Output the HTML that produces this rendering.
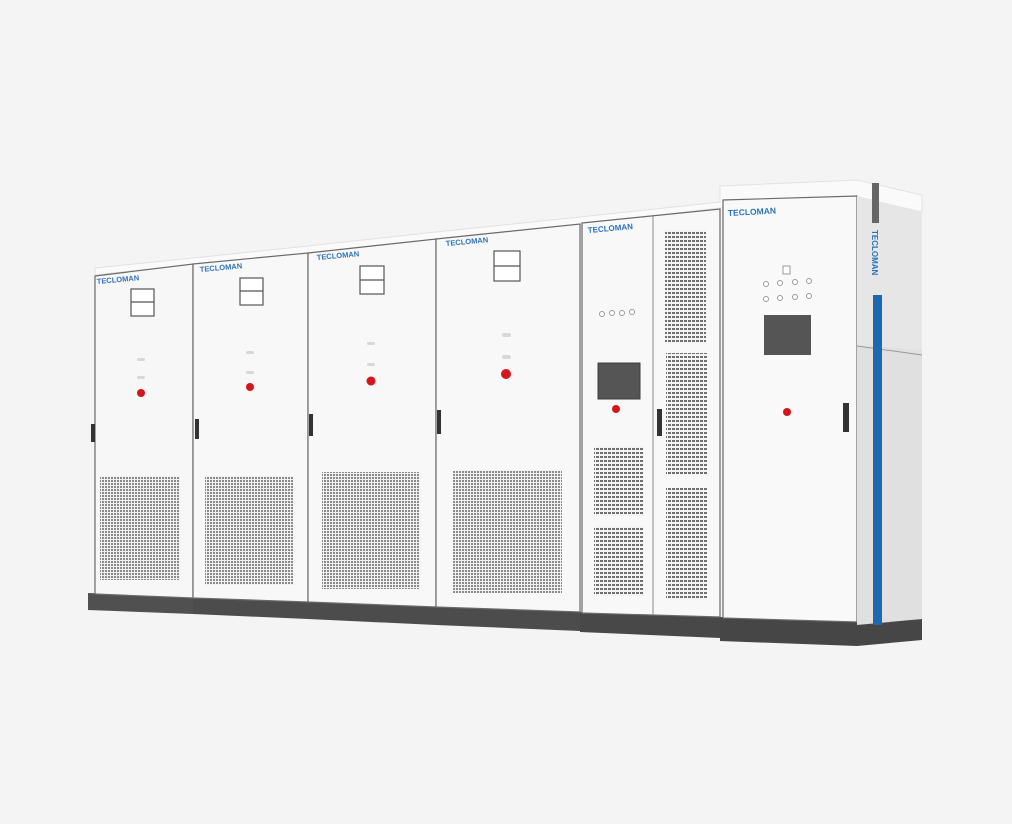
<!DOCTYPE html>
<html><head><meta charset="utf-8"><style>
html,body{margin:0;padding:0;background:#f4f4f4;}
svg{display:block}
text{font-family:"Liberation Sans",sans-serif;font-weight:bold;fill:#2b72bb;}
</style></head><body>
<svg width="1012" height="824" viewBox="0 0 1012 824" xmlns="http://www.w3.org/2000/svg">
<defs>
<pattern id="g" width="3" height="3" patternUnits="userSpaceOnUse">
<rect width="3" height="3" fill="#f2f2f2"/><rect width="2" height="2" fill="#8a8a8a"/>
</pattern>
<pattern id="g2" width="4" height="4" patternUnits="userSpaceOnUse">
<rect width="4" height="4" fill="#f4f4f4"/><rect width="3" height="2" fill="#6f6f6f"/>
</pattern>
</defs>
<rect width="1012" height="824" fill="#f4f4f4"/>
<!-- bases -->
<polygon points="88,593 193,597 193,614 88,610" fill="#505050"/>
<polygon points="193,597 308,601 308,619 193,614" fill="#4c4c4c"/>
<polygon points="308,601 436,606 436,625 308,619" fill="#4c4c4c"/>
<polygon points="436,606 580,611 580,631 436,625" fill="#4c4c4c"/>
<polygon points="580,612 720,616 720,638 580,632" fill="#484848"/>
<polygon points="720,617 857,622 922,619 922,640 857,646 720,641" fill="#464646"/>
<!-- top lids -->
<polygon points="95,268 193,258 308,246 436,232 580,217 720,202 720,186 857,180 922,195 922,212 857,197 720,208 580,224 436,239 308,253 193,264 95,275" fill="#fafafa" stroke="#e2e2e2" stroke-width="1"/>
<!-- fronts -->
<polygon points="95,276 193,264 193,598 95,594" fill="#f7f7f7" stroke="#6a6a6a" stroke-width="1.2"/>
<polygon points="193,264 308,253 308,602 193,598" fill="#f8f8f8" stroke="#6a6a6a" stroke-width="1.2"/>
<polygon points="308,253 436,239 436,607 308,602" fill="#f8f8f8" stroke="#6a6a6a" stroke-width="1.2"/>
<polygon points="436,239 580,224 580,612 436,607" fill="#f8f8f8" stroke="#6a6a6a" stroke-width="1.2"/>
<polygon points="582,223 720,209 720,617 582,613" fill="#f8f8f8" stroke="#6a6a6a" stroke-width="1.2"/>
<line x1="653" y1="216" x2="653" y2="615" stroke="#8a8a8a" stroke-width="1"/>
<polygon points="723,200 857,196 857,622 723,618" fill="#f9f9f9" stroke="#6a6a6a" stroke-width="1.2"/>
<!-- side -->
<polygon points="857,196 922,212 922,619 857,625" fill="#e0e0e0"/>
<polygon points="857,196 922,212 922,350 857,345" fill="#e6e6e6"/>
<line x1="857" y1="346" x2="922" y2="355" stroke="#9a9a9a"/>
<rect x="872" y="183" width="7" height="40" fill="#666"/>
<polygon points="873,295 882,295 882,625 873,625" fill="#1f67b1"/>
<text x="0" y="0" font-size="8" transform="translate(872,230) rotate(90)">TECLOMAN</text>
<!-- logos -->
<text x="97" y="284" font-size="7.5" transform="rotate(-5 97 284)">TECLOMAN</text>
<text x="200" y="272" font-size="7.5" transform="rotate(-5 200 272)">TECLOMAN</text>
<text x="317" y="260" font-size="7.5" transform="rotate(-5 317 260)">TECLOMAN</text>
<text x="446" y="246" font-size="7.5" transform="rotate(-5 446 246)">TECLOMAN</text>
<text x="588" y="233" font-size="8" transform="rotate(-5 588 233)">TECLOMAN</text>
<text x="728" y="216" font-size="8.5" transform="rotate(-3 728 216)">TECLOMAN</text>
<!-- windows -->
<g fill="#fff" stroke="#555" stroke-width="1.2">
<rect x="131" y="289" width="23" height="27"/><line x1="131" y1="302" x2="154" y2="302"/>
<rect x="240" y="278" width="23" height="27"/><line x1="240" y1="291" x2="263" y2="291"/>
<rect x="360" y="266" width="24" height="28"/><line x1="360" y1="280" x2="384" y2="280"/>
<rect x="494" y="251" width="26" height="30"/><line x1="494" y1="266" x2="520" y2="266"/>
</g>
<g fill="#d8d8d8">
<rect x="137" y="358" width="8" height="3" rx="1.5"/><rect x="137" y="376" width="8" height="3" rx="1.5"/>
<rect x="246" y="351" width="8" height="3" rx="1.5"/><rect x="246" y="371" width="8" height="3" rx="1.5"/>
<rect x="367" y="342" width="8" height="3" rx="1.5"/><rect x="367" y="363" width="8" height="3" rx="1.5"/>
<rect x="502" y="333" width="9" height="4" rx="2"/><rect x="502" y="355" width="9" height="4" rx="2"/>
</g>
<!-- red buttons -->
<g fill="#d4161c">
<circle cx="141" cy="393" r="4"/><circle cx="250" cy="387" r="4"/><circle cx="371" cy="381" r="4.5"/><circle cx="506" cy="374" r="5"/>
<circle cx="616" cy="409" r="4"/><circle cx="787" cy="412" r="4"/>
</g>
<!-- handles -->
<g fill="#333">
<rect x="91" y="424" width="4" height="18"/><rect x="195" y="419" width="4" height="20"/>
<rect x="309" y="414" width="4" height="22"/><rect x="437" y="410" width="4" height="24"/>
<rect x="657" y="409" width="5" height="27"/><rect x="843" y="403" width="6" height="29"/>
</g>
<!-- grilles -->
<rect x="100" y="476" width="80" height="104" fill="url(#g)"/>
<rect x="205" y="476" width="89" height="109" fill="url(#g)"/>
<rect x="322" y="472" width="98" height="117" fill="url(#g)"/>
<rect x="453" y="470" width="109" height="123" fill="url(#g)"/>
<rect x="594" y="446" width="50" height="70" fill="url(#g2)"/>
<rect x="594" y="526" width="50" height="70" fill="url(#g2)"/>
<rect x="665" y="230" width="41" height="113" fill="url(#g2)"/>
<rect x="666" y="353" width="41" height="122" fill="url(#g2)"/>
<rect x="666" y="488" width="41" height="112" fill="url(#g2)"/>
<!-- screens -->
<rect x="598" y="363" width="42" height="36" fill="#555" stroke="#3e3e3e"/>
<rect x="764" y="315" width="47" height="40" fill="#555"/>
<!-- small buttons -->
<g fill="#fff" stroke="#999" stroke-width="1">
<circle cx="602" cy="314" r="2.5"/><circle cx="612" cy="313" r="2.5"/><circle cx="622" cy="313" r="2.5"/><circle cx="632" cy="312" r="2.5"/>
<circle cx="766" cy="284" r="2.5"/><circle cx="780" cy="283" r="2.5"/><circle cx="795" cy="282" r="2.5"/><circle cx="809" cy="281" r="2.5"/>
<circle cx="766" cy="299" r="2.5"/><circle cx="780" cy="298" r="2.5"/><circle cx="795" cy="297" r="2.5"/><circle cx="809" cy="296" r="2.5"/>
<rect x="783" y="266" width="7" height="8"/>
</g>
</svg>
</body></html>
